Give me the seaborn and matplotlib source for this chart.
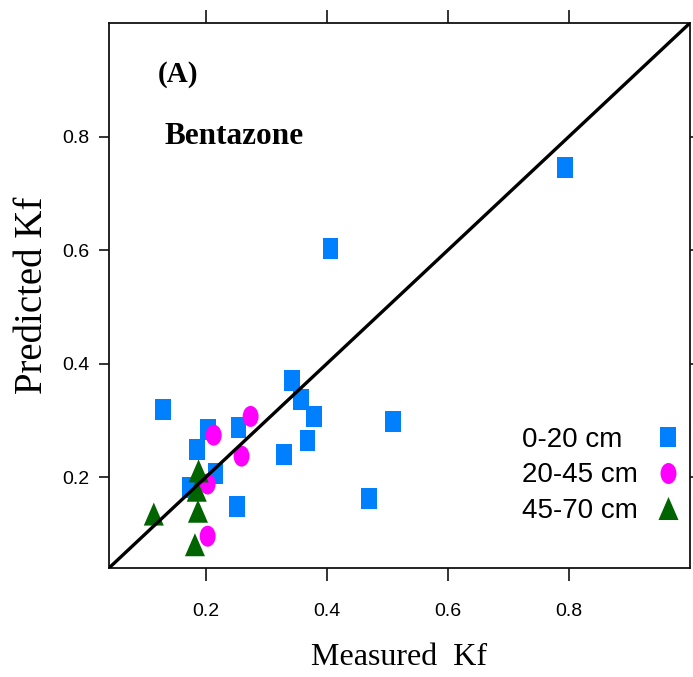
import numpy as np
import pandas as pd
import matplotlib
matplotlib.use("Agg")
import matplotlib.pyplot as plt
from matplotlib.path import Path
from matplotlib.transforms import Affine2D
from matplotlib.lines import Line2D
import seaborn as sns

# Measured vs predicted Freundlich Kf for bentazone, by soil depth
depth_labels = ["0-20 cm", "20-45 cm", "45-70 cm"]

measured_0_20 = [0.129, 0.185, 0.203, 0.254, 0.216, 0.174, 0.251, 0.329,
                 0.343, 0.358, 0.378, 0.368, 0.510, 0.469, 0.406, 0.793]
predicted_0_20 = [0.319, 0.249, 0.284, 0.288, 0.207, 0.182, 0.149, 0.240,
                  0.370, 0.337, 0.307, 0.265, 0.298, 0.163, 0.602, 0.746]

measured_20_45 = [0.274, 0.213, 0.259, 0.203, 0.203]
predicted_20_45 = [0.307, 0.274, 0.237, 0.188, 0.096]

measured_45_70 = [0.188, 0.185, 0.187, 0.114, 0.182]
predicted_45_70 = [0.211, 0.177, 0.140, 0.135, 0.081]

axis_range = [0.04, 1.0]          # 1:1 line spans the full axis range
tick_values = [0.2, 0.4, 0.6, 0.8]
tick_labels = ["0.2", "0.4", "0.6", "0.8"]

colors = {"0-20 cm": "#0080FF", "20-45 cm": "#FF00FF", "45-70 cm": "#006400"}

# marker shapes (taller than wide)
rect_marker = Path([(-0.38, -0.5), (0.38, -0.5), (0.38, 0.5), (-0.38, 0.5), (-0.38, -0.5)],
                   [Path.MOVETO, Path.LINETO, Path.LINETO, Path.LINETO, Path.CLOSEPOLY])
ellipse_marker = Affine2D().scale(0.38, 0.5).transform_path(Path.unit_circle())
tri_marker = Path([(0.0, 0.5), (-0.435, -0.5), (0.435, -0.5), (0.0, 0.5)],
                  [Path.MOVETO, Path.LINETO, Path.LINETO, Path.CLOSEPOLY])
markers = {"0-20 cm": rect_marker, "20-45 cm": ellipse_marker, "45-70 cm": tri_marker}
sizes = {"0-20 cm": 228, "20-45 cm": 228, "45-70 cm": 275}

df = pd.concat([
    pd.DataFrame({"Measured": measured_0_20, "Predicted": predicted_0_20, "Depth": depth_labels[0]}),
    pd.DataFrame({"Measured": measured_20_45, "Predicted": predicted_20_45, "Depth": depth_labels[1]}),
    pd.DataFrame({"Measured": measured_45_70, "Predicted": predicted_45_70, "Depth": depth_labels[2]}),
], ignore_index=True)

sns.set_theme(style="white")
plt.rcParams["font.family"] = ["Liberation Sans", "DejaVu Sans"]
plt.rcParams["text.color"] = "black"
plt.rcParams["axes.labelcolor"] = "black"
plt.rcParams["xtick.color"] = "black"
plt.rcParams["ytick.color"] = "black"

fig = plt.figure(figsize=(6.93, 6.77), dpi=100)
ax = fig.add_axes([109 / 693, 109 / 677, 581 / 693, 545 / 677])

sns.scatterplot(data=df, x="Measured", y="Predicted", hue="Depth", style="Depth",
                size="Depth", hue_order=depth_labels, style_order=depth_labels,
                size_order=depth_labels, palette=colors, markers=markers, sizes=sizes,
                linewidth=0, legend=False, ax=ax, zorder=2)

sns.lineplot(x=axis_range, y=axis_range, color="black", linewidth=2.4, ax=ax, zorder=3)

ax.set_xlim(axis_range)
ax.set_ylim(axis_range)
ax.set_xticks(tick_values)
ax.set_xticklabels(tick_labels)
ax.set_yticks(tick_values)
ax.set_yticklabels(tick_labels)

for side in ["left", "right", "top", "bottom"]:
    ax.spines[side].set_visible(True)
    ax.spines[side].set_color("#111111")
    ax.spines[side].set_linewidth(1.3)

ax.tick_params(axis="x", which="major", direction="out", length=9.5, width=1.2,
               top=True, bottom=True, labeltop=False, labelsize=14, pad=16,
               color="#111111", labelcolor="black")
ax.tick_params(axis="y", which="major", direction="out", length=7.2, width=1.2,
               left=True, right=True, labelright=False, labelsize=14, pad=7,
               color="#111111", labelcolor="black")

ax.set_xlabel("Measured  Kf", family=["Liberation Serif"], fontsize=23, labelpad=16,
              color="black")
ax.set_ylabel("Predicted Kf", family=["Liberation Serif"], fontsize=28, labelpad=8,
              color="black")

ax.text(0.118, 0.906, "(A)", transform=ax.transAxes, family=["Liberation Serif"],
        fontsize=21, fontweight="bold", ha="center", va="center", color="black")
ax.text(0.215, 0.792, "Bentazone", transform=ax.transAxes, family=["Liberation Serif"],
        fontsize=22.5, fontweight="bold", ha="center", va="center", color="black")

handles = [Line2D([], [], linestyle="none", marker=markers[d], color=colors[d],
                  markeredgewidth=0, markersize=np.sqrt(sizes[d])) for d in depth_labels]
leg = ax.legend(handles, depth_labels, loc="center right", bbox_to_anchor=(0.986, 0.170),
                markerfirst=False, frameon=False, fontsize=20, labelspacing=0.33,
                handlelength=1.0, handletextpad=0.6, borderpad=0, borderaxespad=0,
                labelcolor="black")

# left-align the legend labels while keeping the markers in a right-hand column
renderer = fig.canvas.get_renderer()
widths = [t.get_window_extent(renderer).width for t in leg.get_texts()]
for t, w in zip(leg.get_texts(), widths):
    t.set_position((w - max(widths), 0))

fig.savefig("out.png", dpi=100)
